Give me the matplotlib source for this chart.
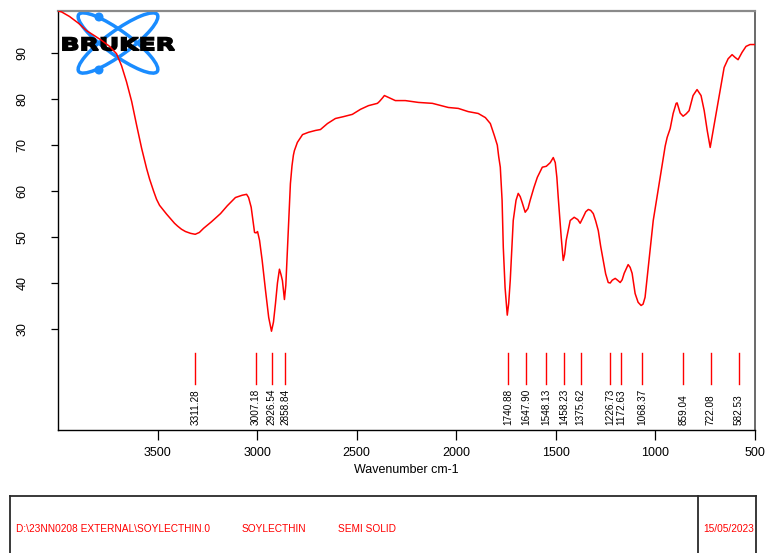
import matplotlib
matplotlib.use("Agg")
import matplotlib.pyplot as plt
import matplotlib.transforms as mtransforms
from matplotlib.patches import Ellipse, Circle, PathPatch
from matplotlib.textpath import TextPath
from matplotlib.font_manager import FontProperties
from matplotlib.path import Path
import numpy as np

plt.rcParams['font.family'] = ['Liberation Sans', 'DejaVu Sans']

# FT-IR spectrum: wavenumber (cm-1) and transmittance (%)
wavenumber = [
    4000, 3982, 3942, 3896, 3856, 3816, 3781, 3741, 3706, 3681, 3656, 3630,
    3605, 3580, 3555, 3540, 3520, 3505, 3490, 3470, 3455, 3435, 3415, 3400,
    3380, 3360, 3334, 3311, 3290, 3269, 3230, 3184, 3150, 3109, 3075, 3053,
    3043, 3030, 3023, 3013, 3005, 2998, 2988, 2975, 2958, 2942, 2928, 2918,
    2908, 2898, 2888, 2880, 2873, 2863, 2856, 2848, 2840, 2833, 2825, 2818,
    2813, 2798, 2772, 2742, 2707, 2682, 2647, 2607, 2567, 2522, 2481, 2441,
    2396, 2386, 2370, 2361, 2346, 2331, 2306, 2256, 2190, 2120, 2040, 1990,
    1940, 1890, 1854, 1829, 1809, 1794, 1787, 1779, 1770, 1764, 1755, 1744,
    1737, 1729, 1714, 1700, 1689, 1679, 1669, 1654, 1640, 1629, 1610, 1593,
    1568, 1548, 1528, 1513, 1503, 1495, 1488, 1480, 1473, 1463, 1456, 1448,
    1428, 1408, 1390, 1378, 1363, 1350, 1337, 1325, 1312, 1300, 1287, 1275,
    1262, 1250, 1237, 1227, 1217, 1202, 1190, 1177, 1167, 1157, 1137, 1127,
    1117, 1102, 1087, 1072, 1062, 1052, 1036, 1011, 976, 961, 951, 941,
    926, 911, 896, 891, 876, 861, 846, 831, 811, 791, 771, 755,
    740, 725, 710, 690, 675, 655, 635, 615, 600, 585, 565, 545,
    525, 505, 500,
]
transmittance = [
    99.2, 99.0, 98.0, 96.5, 94.9, 93.8, 92.8, 91.5, 89.9, 87.3, 83.8, 79.5,
    74.3, 69.3, 64.9, 62.6, 60.0, 58.2, 56.9, 55.8, 55.0, 54.0, 53.0, 52.4,
    51.7, 51.2, 50.8, 50.6, 51.0, 51.9, 53.3, 55.1, 56.8, 58.6, 59.1, 59.3,
    58.6, 56.5, 54.3, 51.0, 50.9, 51.2, 49.3, 45.0, 38.4, 32.5, 29.5, 31.5,
    35.5, 40.0, 43.0, 41.8, 40.5, 36.4, 39.5, 47.1, 55.0, 61.6, 65.5, 67.8,
    68.8, 70.6, 72.3, 72.8, 73.2, 73.4, 74.7, 75.8, 76.2, 76.7, 77.8, 78.6,
    79.1, 79.5, 80.3, 80.8, 80.5, 80.2, 79.7, 79.7, 79.3, 79.1, 78.2, 78.0,
    77.3, 76.9, 76.0, 74.7, 72.1, 70.0, 67.5, 65.2, 58.0, 47.8, 39.0, 33.0,
    35.5, 40.6, 53.6, 58.0, 59.5, 58.8, 57.5, 55.4, 56.2, 58.0, 60.8, 63.0,
    65.2, 65.4, 66.2, 67.3, 66.2, 63.0, 58.6, 54.0, 49.9, 44.9, 46.2, 49.3,
    53.6, 54.3, 53.8, 53.0, 54.3, 55.5, 56.0, 55.8, 55.1, 53.5, 51.4, 48.0,
    44.9, 42.0, 40.1, 40.0, 40.6, 41.0, 40.6, 40.1, 40.7, 42.1, 44.0, 43.4,
    42.1, 37.7, 35.8, 35.1, 35.4, 36.9, 43.4, 53.6, 63.0, 67.0, 69.8, 71.7,
    73.6, 76.9, 79.1, 79.2, 77.0, 76.3, 76.8, 77.5, 80.8, 82.1, 80.8, 77.5,
    73.2, 69.5, 73.2, 78.2, 81.9, 86.9, 88.8, 89.7, 89.1, 88.6, 90.2, 91.5,
    91.9, 91.9, 91.9,
]

# Picked peak positions (cm-1)
peaks = [3311.28, 3007.18, 2926.54, 2858.84, 1740.88, 1647.90, 1548.13,
         1458.23, 1375.62, 1226.73, 1172.63, 1068.37, 859.04, 722.08, 582.53]

y_ticks = [30, 40, 50, 60, 70, 80, 90]
x_ticks = [3500, 3000, 2500, 2000, 1500, 1000, 500]

file_path = "D:\\23NN0208 EXTERNAL\\SOYLECTHIN.0"
sample_name = "SOYLECTHIN"
sample_form = "SEMI SOLID"
meas_date = "15/05/2023"

W, H = 767, 553
fig = plt.figure(figsize=(W / 100, H / 100), dpi=100)
fig.patch.set_facecolor('white')

# Decoration layer in pixel units (logo, info box)
deco = fig.add_axes([0, 0, 1, 1], zorder=0)
deco.set_xlim(0, W)
deco.set_ylim(H, 0)
deco.axis('off')

ax = fig.add_axes([58 / W, 1 - 430 / H, (755 - 58) / W, (430 - 11) / H], zorder=1)
ax.set_facecolor('none')

ax.plot(wavenumber, transmittance, color='#ff0000', lw=1.1, zorder=3)
ax.set_xlim(4000, 500)
ax.set_ylim(8, 99.2)
ax.set_xticks(x_ticks)
ax.set_yticks(y_ticks)
ax.tick_params(axis='x', direction='out', length=7, width=0.9, labelsize=9, pad=5)
ax.tick_params(axis='y', direction='out', length=5, width=0.9, labelsize=9,
               pad=16, labelrotation=90)
for lab in ax.get_yticklabels():
    lab.set_va('center')
ax.set_xlabel("Wavenumber cm-1", fontsize=9, labelpad=4)

ax.spines['top'].set_color('#8a8a8a')
ax.spines['top'].set_linewidth(1.6)
ax.spines['right'].set_color('#505050')
ax.spines['right'].set_linewidth(1.2)
ax.spines['left'].set_linewidth(1.0)
ax.spines['bottom'].set_linewidth(1.0)

# Peak markers with rotated labels along the bottom of the plot
trans = mtransforms.blended_transform_factory(ax.transData, ax.transAxes)
for p in peaks:
    ax.plot([p, p], [0.110, 0.184], transform=trans, color='#ff0000', lw=1.0)
    ax.text(p, 0.012, f"{p:.2f}", transform=trans, rotation=90,
            ha='center', va='bottom', fontsize=7.2, color='black')

# BRUKER logo: two crossing orbits, two electrons and the wordmark
blue = '#1a8cff'
cx, cy = 118, 43
for ang in (36, -36):
    deco.add_patch(Ellipse((cx, cy), 97, 24, angle=ang, fill=False,
                           edgecolor=blue, lw=2.5))
deco.add_patch(Circle((99, 17), 3.8, color=blue))
deco.add_patch(Circle((99, 70), 3.8, color=blue))

tp = TextPath((0, 0), "BRUKER", size=20,
              prop=FontProperties(family='DejaVu Sans', weight='bold'))
v = tp.vertices.copy()
x0, x1 = v[:, 0].min(), v[:, 0].max()
y0, y1 = v[:, 1].min(), v[:, 1].max()
nv = np.column_stack([60.5 + (v[:, 0] - x0) / (x1 - x0) * 114,
                      50.5 - (v[:, 1] - y0) / (y1 - y0) * 13])
deco.add_patch(PathPatch(Path(nv, tp.codes), facecolor='black',
                         edgecolor='black', lw=1.1))

# Sample information box
box_col = '#2a2a2a'
deco.plot([10, 756], [496, 496], color=box_col, lw=1.3)
deco.plot([10, 10], [496, 560], color=box_col, lw=1.3)
deco.plot([756, 756], [496, 560], color=box_col, lw=1.3)
deco.plot([698, 698], [496, 560], color=box_col, lw=1.3)
info_kw = dict(color='#ff0000', fontsize=7.3, va='center', ha='left')
deco.text(16, 529, file_path, **info_kw)
deco.text(242, 529, sample_name, **info_kw)
deco.text(338, 529, sample_form, **info_kw)
deco.text(703, 529, meas_date, **info_kw)

fig.savefig("out.png", dpi=100)
